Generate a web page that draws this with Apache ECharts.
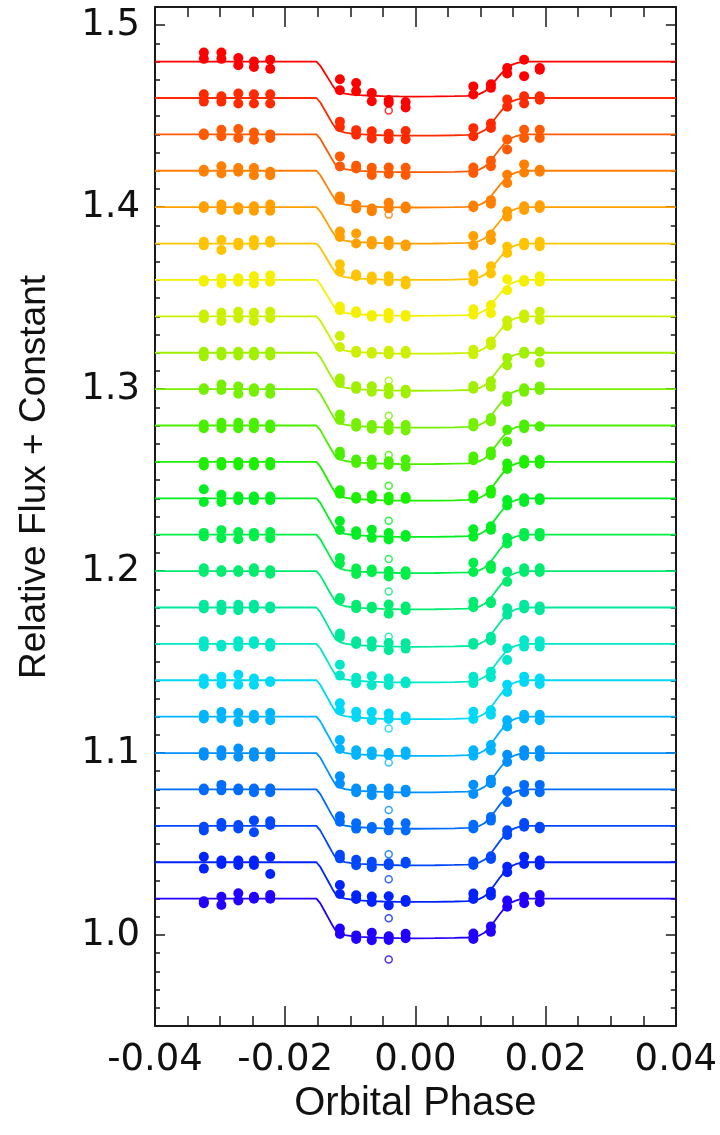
<!DOCTYPE html>
<html>
<head>
    <meta charset="utf-8">
    <title>Transit light curves</title>
    <script src="https://cdn.jsdelivr.net/npm/echarts@6/dist/echarts.min.js"></script>
</head>
<body style="margin:0;background:#fff">
    <div id="main" style="width: 720px; height: 1135px;"></div>

    <script>
        // constant added to each channel (bottom = blue, top = red)
        var curveOffset = [1.02, 1.04, 1.06, 1.08, 1.10, 1.12, 1.14, 1.16, 1.18, 1.20, 1.22, 1.24,
                           1.26, 1.28, 1.30, 1.32, 1.34, 1.36, 1.38, 1.40, 1.42, 1.44, 1.46, 1.48];
        // transit depth of each channel, in units of 0.001
        var transitDepth = [21.8, 21.8, 21.7, 21.6, 21.6, 21.6, 21.4, 21.2, 21.6, 21.0, 21.1, 21.2,
                            21.3, 21.2, 21.2, 20.9, 20.5, 19.7, 20.0, 20.0, 20.2, 20.8, 20.7, 19.2];

        // model light curve shape (fraction of full depth)
        var modelPhase = [-0.04, -0.0152, -0.0146, -0.0140, -0.0134, -0.0128, -0.0122, -0.0116, -0.0108, -0.0098,
                          -0.0085, -0.0070, -0.0050, -0.0025, 0.0, 0.0030, 0.0060, 0.0080, 0.0090, 0.0098,
                          0.0106, 0.0114, 0.0122, 0.0130, 0.0138, 0.0146, 0.0154, 0.0162, 0.0170, 0.04];
        var modelShape = [0, 0, 0.12, 0.30, 0.48, 0.66, 0.82, 0.88, 0.92, 0.945,
                          0.962, 0.978, 0.99, 0.998, 1.0, 0.998, 0.99, 0.98, 0.965, 0.93,
                          0.86, 0.74, 0.56, 0.38, 0.22, 0.11, 0.05, 0.015, 0, 0];

        // phases of the binned data and model depth fraction there
        var clusterPhase = [-0.0325, -0.0298, -0.0272, -0.0248, -0.0223,
                            -0.0116, -0.0091, -0.0067, -0.0041, -0.0015,
                            0.0089, 0.0116, 0.0141, 0.0167, 0.0191];
        var clusterShape = [0, 0, 0, 0, 0, 0.87, 0.95, 0.978, 0.995, 1, 0.97, 0.70, 0.16, 0, 0];

        // upper / lower points of each cluster, residual from model in units of 0.001
        var resHi = [
            [-1.5, 1, 3, 1, 2, 2.5, 0.5, 2.5, 1, 2.5, 2, 0, 2.5, 1, 2],
            [3, 1, 1, 1, 3, 6.5, 2.5, 2.5, 3, 1, 4, -1, 1, 3, 1],
            [-0.5, 1.5, 0.5, 3, 2.5, 3, 2, 1.5, 1, 2, 1.5, -1.5, 1, 1.5, -0.5],
            [0.5, 2.5, 0.5, 0.5, 0.5, 4, 2, 0.5, 3, 3, 1.5, 0, 2.5, 2.5, 2.5],
            [0.5, 1.5, 2.5, 0.5, 0.5, 6, 1, 1.5, 2, 1.5, 3.5, 0.5, 2.5, 1.5, 1.5],
            [1, 2.5, 2, 1, 2, 6, 2, 2, 1.5, 2.5, 2.5, -0.5, 1.5, 1, 1],
            [1, 2, 3, 1, -0.5, 6, 3, 3.5, 3, 1.5, 3.5, -1.5, 1, 2, 1],
            [1.5, -0.5, 1.5, 1.5, 0.5, 7, 1.5, 3, 2, 0.5, 2.5, -0.5, 1, 2, 1.5],
            [1.5, 1.5, 1.5, 1.5, 0.5, 4.5, 2, 2.5, 2, 2, 1.5, -1, 3, 1.5, 0.5],
            [1.5, 0.5, 0.5, 1.5, 0.5, 3.5, 1.5, 1, 2.5, 1.5, 3.5, -2, 3, 1.5, 1.5],
            [1, 2.5, 1.5, 1, 1.5, 5.5, 1.5, 1.5, 1, 1, 5, -2, 1.5, 1, 1],
            [5, 2, 1, 1, 1, 6, 2, 3.5, 2, 1, 3.5, -0.5, 2.5, 0, 0],
            [0, 0, 0, 0, 0, 3, 1, 2.5, 2, 2, 2.5, -0.5, 2.5, 1, 1],
            [0.5, 1.5, 1.5, 1.5, 0.5, 4, 1.5, 2, 1.5, 2.5, 3.5, 0.5, 1, 0.5, -0.5],
            [0.5, 2.5, 1.5, 0.5, 0.5, 4.5, 1.5, 1, 1.5, 1.5, 2, -1, -0.5, 0.5, 1.5],
            [0.5, 0.5, 0.5, 0.5, 0.5, 4, 1.5, 2, 1.5, 0.5, 2, -1, 0.5, 0.5, 0.5],
            [1, 2, 2.5, 2, 2.5, 7, 0.5, 0.5, 1.5, 1.5, 1.5, 0.5, 1, 1, 2.5],
            [0, 1, 1, 2, 2.5, 2.5, 1.5, 0, 1.5, 0.5, 3, 0, 3.5, 0, 2],
            [1, 2, 0.5, 2, 1.5, 6, 2, 1.5, 2, -0.5, 2.5, 1.5, 1.5, 0.5, 1],
            [0.5, 1.5, 0, 0.5, 1.5, 4, 4.5, 1, 1.5, -0.5, 3.5, -1, 1, 0.5, 1],
            [0.5, 2.5, 1.5, 1.5, -0.5, 3.5, 0.5, -1, 2.5, 0.5, 0.5, -2, 1, 3.5, 0.5],
            [0.5, 2.5, 3, 1, 0, 6, 2.5, 2, 2.5, 2.5, 2, 0, 0.5, 2.5, 2.5],
            [2, 1, 2.5, 2, 2, 5, 2, 2, 1, 2.5, 3.5, 0.5, 2.5, 1, 1],
            [5, 5, 2, 0, 1, 7, 6.5, 1.5, -2, -3, 5, 1, -0.5, 1, -3.5]
        ];
        var resLo = [
            [-2.5, -3.5, -1, 0, 0, -0.5, -1.5, -1.5, -1, 0, -1, -3, -1, -2.5, -2],
            [-3.5, -1, -1.5, -1.5, -6.5, 1.5, 0.5, -0.5, -2, 0, 1, -3, -2, -1, -1.5],
            [-2.5, -0.5, -1.5, -3.5, 0.5, 1, -1, -1.5, 0, 1, -0.5, -3, -1.5, -0.5, -1.5],
            [-0.5, -0.5, -0.5, -1.5, -1.5, 1, -1, -0.5, -1, -1, -0.5, -2, -3.5, -1.5, -1.5],
            [-1.5, -1.5, -2, -2, -2, 2, -1, -2, -1.5, 0, -1.5, -1.5, -1.5, -1.5, -2],
            [-1, -1, -3, -1, -2, 1, -0.5, 0, 0.5, 0.5, -0.5, -3.5, -2, -1, -2],
            [-2, -2, -2.5, -2.5, -1, 2, 0, -1, 0, -0.5, -0.5, -4, -3, -1, -2],
            [-1.5, -1.5, -1.5, 0, -1.5, 1, -1.5, -2, -1.5, -0.5, -1, -3.5, -5.5, -1.5, -1.5],
            [-0.5, -1.5, -1.5, -0.5, -0.5, 2.5, 0.5, -0.5, -2, -1, 0.5, -3, -0.5, -0.5, -1.5],
            [-0.5, -0.5, -0.5, -0.5, -1.5, 2.5, -0.5, 0, -2.5, -0.5, 0.5, -3, -2.5, -0.5, -0.5],
            [-1, -2, -2.5, -1, -2, 2.5, -1.5, 0, -2, -1, 0, -4, -1.5, -1, -1],
            [-2, -2, -1, -1, -1, 1, 0, -1, -1.5, 0, -0.5, -2.5, -0.5, -2, -1],
            [-2, -2, -2, -2, -2, 1, 0, 0.5, 0, 1, 0.5, -2.5, -0.5, -1, -1],
            [-1.5, -1.5, -1.5, -1.5, -1.5, 2, -0.5, -1, -0.5, -1.5, 1.5, -1.5, -5.5, -1.5, -0.5],
            [-0.5, -0.5, -2.5, -1.5, -2.5, 1.5, -0.5, -1, -1.5, -1.5, 0, -3, -3.5, -1.5, -0.5],
            [-2, -1.5, -1.5, -1.5, -1.5, 1.5, 0, -1, -2, -1.5, 0.5, -4, -3.5, -0.5, -5.5],
            [-1, -2.5, -1, -2.5, -1, 1, -0.5, -0.5, -0.5, 0, -1, -1.5, -2, -1, -2],
            [-1, -2, -1, -2, -1, 0.5, 0.5, -1, -1.5, -0.5, 0, -4.5, -2.5, -1, -1],
            [-1, -3.5, -1, -1, 0.5, 2, 1, -0.5, -1, -2.5, -1.5, -2.5, -2, -1, -1.5],
            [-0.5, -1.5, -1.5, -2, -2, 1, -1, -1, -1, -1.5, -1.5, -4, -2, -1.5, -0.5],
            [-0.5, -1.5, -0.5, -2.5, -2.5, 1.5, -1.5, -2.5, -0.5, -0.5, -0.5, -4, -3.5, -1, -0.5],
            [-0.5, -1, -2, -3, -2, 0.5, 1, -2, -1, -1.5, -1, -3, -5, -2, -2],
            [-2, -2, -3, -3, -3, 2, -0.5, -2, -2, -2, -1, -2, -1.5, -3, -1],
            [1.5, 1.5, -2, -3, -4, 1, 2, -3, -3.5, -6, 0.5, -1, -3.5, -8, -4.5]
        ];

        // open-circle points (rejected), all at the same phase
        var outlierPhase = -0.0041;
        var outlierFlux = [0.9866, 1.0092, 1.0306, 1.0444, 1.0687, 1.0948, 1.1135, 1.1639, 1.1888,
                           1.2066, 1.2276, 1.2469, 1.2638, 1.2854, 1.3046, 1.3959, 1.4531];
        var outlierCurve = [0, 1, 2, 3, 4, 5, 6, 8, 9, 10, 11, 12, 13, 14, 15, 20, 23];

        var xTicks = [-0.04, -0.02, 0.00, 0.02, 0.04];
        var yTicks = [1.0, 1.1, 1.2, 1.3, 1.4, 1.5];

        var palette = ['#2200ff', '#0022ff', '#0048ff', '#006cff', '#0090ff', '#00b4ff',
                       '#00d8f8', '#00e8c8', '#00e89c', '#00ec70', '#00ee48', '#00ee22',
                       '#1cf000', '#48f000', '#74f000', '#a0f000', '#ccf000', '#f4f000',
                       '#ffc400', '#ffa000', '#ff8000', '#ff5a00', '#ff2a00', '#ff0000'];

        var myChart = echarts.init(document.getElementById('main'), null, { renderer: 'canvas' });

        var axisColor = '#1a1a1a';
        var tickFont = 'DejaVu Sans';

        var series = [];
        curveOffset.forEach(function (off, i) {
            var d = transitDepth[i] / 1000;
            series.push({
                type: 'line',
                name: 'model' + i,
                showSymbol: false,
                silent: true,
                z: 2,
                lineStyle: { color: palette[i], width: 1.8 },
                data: modelPhase.map(function (p, k) {
                    return [p, off - d * modelShape[k]];
                })
            });
            var pts = [];
            clusterPhase.forEach(function (p, c) {
                var base = off - d * clusterShape[c];
                pts.push([p, base + resHi[i][c] / 1000]);
                pts.push([p, base + resLo[i][c] / 1000]);
            });
            series.push({
                type: 'scatter',
                name: 'data' + i,
                symbol: 'circle',
                symbolSize: 10,
                z: 3,
                itemStyle: { color: palette[i], opacity: 1 },
                data: pts
            });
        });
        series.push({
            type: 'scatter',
            name: 'rejected',
            symbol: 'circle',
            symbolSize: 7,
            z: 4,
            data: outlierFlux.map(function (v, k) {
                return {
                    value: [outlierPhase, v],
                    itemStyle: { color: 'rgba(255,255,255,0)', borderColor: palette[outlierCurve[k]], borderWidth: 1.5 }
                };
            })
        });

        function xAxisDef(pos, labels) {
            return {
                type: 'value', position: pos, min: -0.04, max: 0.04, interval: 0.02,
                axisLine: { show: true, onZero: false, lineStyle: { color: axisColor, width: 2 } },
                axisTick: { show: true, inside: true, length: 20, lineStyle: { color: axisColor, width: 1.5 } },
                minorTick: { show: true, splitNumber: 4, length: 10, lineStyle: { color: axisColor, width: 1.5 } },
                splitLine: { show: false },
                axisLabel: {
                    show: labels, margin: 16, color: '#111', fontFamily: tickFont, fontSize: 37,
                    formatter: function (v) { return (Math.abs(v) < 1e-9 ? 0 : v).toFixed(2); }
                },
                name: labels ? 'Orbital Phase' : '',
                nameLocation: 'middle', nameGap: 58,
                nameTextStyle: { fontFamily: 'Liberation Sans', fontSize: 40, color: '#111' }
            };
        }
        function yAxisDef(pos, major) {
            return {
                type: 'value', position: pos, min: 0.95, max: 1.51, interval: 0.01,
                axisLine: { show: !major, onZero: false, lineStyle: { color: axisColor, width: 2 } },
                axisTick: major
                    ? { show: true, inside: true, length: 10, customValues: yTicks, lineStyle: { color: axisColor, width: 1.5 } }
                    : { show: true, inside: true, length: 5, lineStyle: { color: axisColor, width: 1.5 } },
                splitLine: { show: false },
                axisLabel: (major && pos === 'left')
                    ? { show: true, margin: 15, customValues: yTicks, color: '#111', fontFamily: tickFont, fontSize: 37,
                        formatter: function (v) { return v.toFixed(1); } }
                    : { show: false }
            };
        }

        var option = {
            animation: false,
            backgroundColor: '#ffffff',
            grid: { left: 155, right: 42, top: 7, bottom: 109, containLabel: false },
            xAxis: [xAxisDef('bottom', true), xAxisDef('top', false)],
            yAxis: [yAxisDef('left', false), yAxisDef('left', true), yAxisDef('right', false), yAxisDef('right', true)],
            graphic: [{
                type: 'text',
                x: 35, y: 477,
                rotation: Math.PI / 2,
                style: {
                    text: 'Relative Flux + Constant',
                    font: '37px "Liberation Sans"',
                    fill: '#111',
                    textAlign: 'center',
                    textVerticalAlign: 'middle'
                }
            }],
            series: series
        };

        myChart.setOption(option);
    </script>
</body>
</html>
